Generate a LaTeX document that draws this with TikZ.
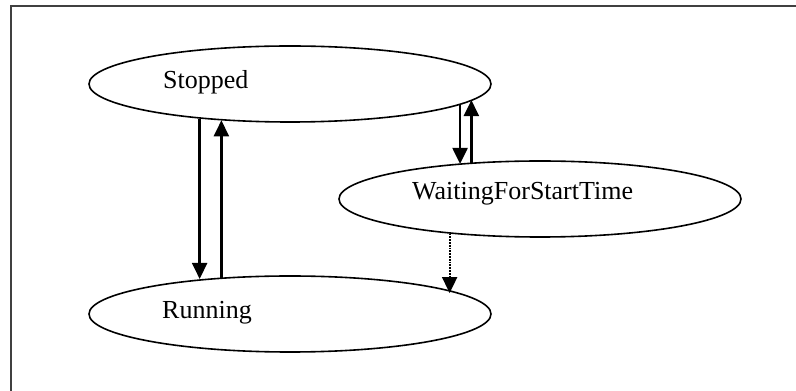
\documentclass[tikz,border=0pt]{standalone}
\usepackage{fontspec}
\setmainfont{Liberation Serif}
\usetikzlibrary{shapes.geometric,arrows.meta}
\begin{document}
\begin{tikzpicture}[x=1pt,y=1pt,
  state/.style={ellipse,draw,line width=1.6pt,minimum width=402pt,minimum height=76pt,inner sep=0pt},
  lbl/.style={anchor=base west,inner sep=0pt,font=\fontsize{26}{30}\selectfont},
  trans/.style={line width=2.3pt,-{Triangle[length=16pt,width=15pt]}},
  dtrans/.style={line width=1.8pt,densely dotted,-{Triangle[length=16pt,width=15pt]}}]
\useasboundingbox (0,0) rectangle (796,391);
\draw[line width=2pt,color=black!75] (11,0) -- (11,385) -- (796,385);
\node[state] (stopped) at (290,307) {};
\node[state] (running) at (290,77) {};
\node[state] (waiting) at (540,192) {};
\node[lbl] (tstopped) at (163,302) {Stopped};
\node[lbl] (trunning) at (162,72) {Running};
\node[lbl] (twaiting) at (412,191) {WaitingForStartTime};
\draw[trans] (stopped.201.8) -- (stopped.201.8 |- running.158.2);
\draw[trans] (running.152.2) -- (running.152.2 |- stopped.207.8);
\draw[trans] (stopped.-7.76) -- (stopped.-7.76 |- waiting.158.5);
\draw[trans] (waiting.152.2) -- (waiting.152.2 |- stopped.-5.06);
\draw[dtrans] (waiting.201.5) -- (waiting.201.5 |- running.7.76);
\end{tikzpicture}
\end{document}
